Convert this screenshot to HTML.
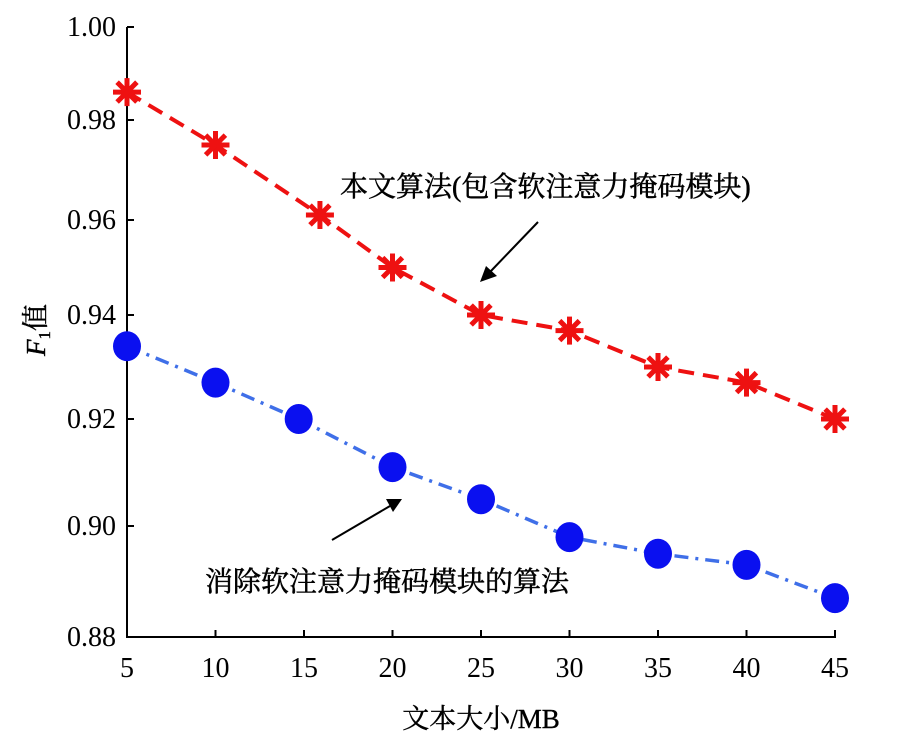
<!DOCTYPE html>
<html><head><meta charset="utf-8"><style>
body{margin:0;background:#fff}
svg text{font-family:"Liberation Serif","Noto Serif CJK SC",serif;fill:#000}
</style></head><body>
<svg id="chart" width="912" height="741" xmlns="http://www.w3.org/2000/svg">
<g id="axes"></g>
<g id="series"></g>
<text x="340" y="196" font-size="28" stroke="#000" stroke-width="0.5">本文算法(包含软注意力掩码模块)</text>
<text x="205" y="591" font-size="28" stroke="#000" stroke-width="0.5">消除软注意力掩码模块的算法</text>
<g><line x1="538" y1="222" x2="490" y2="272" stroke="#000" stroke-width="2"/><polygon points="480,282 486,266 497,276" fill="#000"/></g>
<g><line x1="332" y1="540" x2="390" y2="506" stroke="#000" stroke-width="2"/><polygon points="402,499 386,499 393,512" fill="#000"/></g>
<text x="481" y="728" font-size="27" text-anchor="middle" stroke="#000" stroke-width="0.4">文本大小/MB</text>
<text transform="translate(45,330) rotate(-90)" font-size="27" text-anchor="middle" stroke="#000" stroke-width="0.4"><tspan font-style="italic">F</tspan><tspan font-size="17" dy="5">1</tspan><tspan dy="-5">值</tspan></text>
</svg>
<script>
const xTicks=[5,10,15,20,25,30,35,40,45];
const yTicks=[0.88,0.90,0.92,0.94,0.96,0.98,1.00];
const yTickLabels=["0.88","0.90","0.92","0.94","0.96","0.98","1.00"];
const redX=[5,10,15.9,20,25,30,35,40,45];
const redY=[0.986,0.975,0.961,0.950,0.940,0.937,0.930,0.927,0.920];
const blueX=[5,10,14.7,20,25,30,35,40,45];
const blueY=[0.934,0.927,0.920,0.911,0.905,0.898,0.895,0.893,0.887];
const ns="http://www.w3.org/2000/svg";
const yPix=[637,526,419,315,220,120,27];
function xs(v){return 127+(v-5)*(835-127)/40;}
function ys(v){
  for(let i=0;i<yTicks.length-1;i++){
    if(v<=yTicks[i+1]||i==yTicks.length-2){
      const t=(v-yTicks[i])/(yTicks[i+1]-yTicks[i]);
      return yPix[i]+t*(yPix[i+1]-yPix[i]);
    }
  }
}
function mk(tag,attrs,parent){const e=document.createElementNS(ns,tag);for(const k in attrs)e.setAttribute(k,attrs[k]);parent.appendChild(e);return e;}
const axes=document.getElementById('axes');
let a=mk('line',{x1:127,y1:ys(1.0),x2:127,y2:637,stroke:'#000','stroke-width':2},axes);


a=mk('line',{x1:126,y1:637,x2:836,y2:637,stroke:'#000','stroke-width':2},axes);


yTicks.forEach((v,i)=>{
  const y=ys(v);
  const t=mk('line',{x1:127,y1:y,x2:134,y2:y,stroke:'#000','stroke-width':2},axes);
  
  
  const l=mk('text',{x:116,y:y+9,'font-size':28,'text-anchor':'end'},axes);
  l.textContent=yTickLabels[i];
  
  
});
xTicks.forEach(v=>{
  const x=xs(v);
  const t=mk('line',{x1:x,y1:637,x2:x,y2:630,stroke:'#000','stroke-width':2},axes);
  
  
  const l=mk('text',{x:x,y:677,'font-size':28,'text-anchor':'middle'},axes);
  l.textContent=String(v);
  
  
});
const sg=document.getElementById('series');
const rp=redX.map((v,i)=>xs(v)+','+ys(redY[i])).join(' ');
const bp=blueX.map((v,i)=>xs(v)+','+ys(blueY[i])).join(' ');
let pl=mk('polyline',{points:bp,fill:'none',stroke:'#3f6fe8','stroke-width':3.5,'stroke-dasharray':'14,7,3,7'},sg);


pl=mk('polyline',{points:rp,fill:'none',stroke:'#ee1111','stroke-width':4,'stroke-dasharray':'16,9'},sg);


blueX.forEach((v,i)=>{
  const c=mk('ellipse',{cx:xs(v),cy:ys(blueY[i]),rx:14,ry:15,fill:'#0a10f0'},sg);
  
  
});
redX.forEach((v,i)=>{
  const x=xs(v),y=ys(redY[i]);
  const g=mk('g',{stroke:'#ee1111','stroke-width':5,'stroke-linecap':'butt'},sg);
  
  
  for(let k=0;k<4;k++){
    const ang=k*Math.PI/4;
    const dx=14*Math.cos(ang),dy=14*Math.sin(ang);
    mk('line',{x1:x-dx,y1:y-dy,x2:x+dx,y2:y+dy},g);
  }
});
</script>
</body></html>
